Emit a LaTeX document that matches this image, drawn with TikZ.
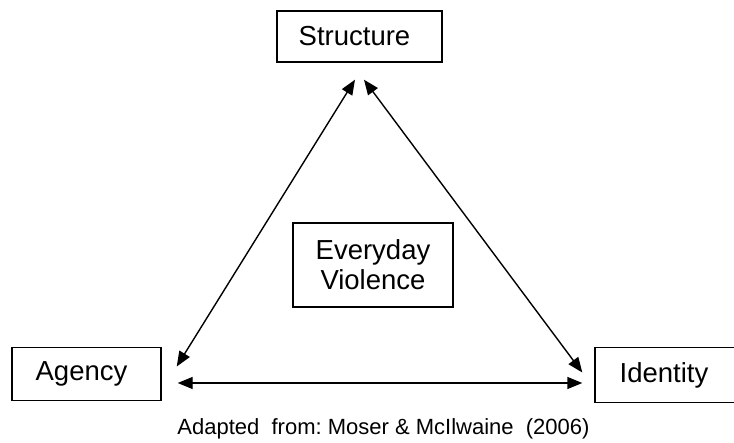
\documentclass[tikz,border=0pt]{standalone}
\usepackage{fontspec}
\setmainfont{Liberation Sans}
\usetikzlibrary{arrows.meta}
\begin{document}
\begin{tikzpicture}[x=1pt,y=-1pt,
  box/.style={draw, line width=1.4pt, inner sep=0pt, align=center,
    font=\fontsize{27.5}{30}\selectfont},
  link/.style={line width=1.4pt, {Triangle[length=15pt,width=12pt]}-{Triangle[length=15pt,width=12pt]}}]
\useasboundingbox (0,0) rectangle (734,443);
\begin{scope}
\clip (0,0) rectangle (734,443);
% the three corners and the centre
\node[box, minimum width=165pt, minimum height=51pt] (structure) at (359.5,36.5) {Structure\hspace{10pt}};
\node[box, minimum width=149pt, minimum height=53pt] (agency) at (86.5,374) {Agency\hspace{10pt}};
\node[box, minimum width=150pt, minimum height=55pt] (identity) at (670,375) {Identity\hspace{12pt}};
\node[box, minimum width=160pt, minimum height=84pt] (everyday) at (373,265) {Everyday\\Violence};

% arrow end points, kept clear of the boxes
\coordinate (sL) at ([xshift=-4.5pt,yshift=-17pt]structure.south);
\coordinate (sR) at ([xshift=4.5pt,yshift=-17pt]structure.south);
\coordinate (aD) at ([xshift=15pt,yshift=7.5pt]agency.east);
\coordinate (aH) at ([xshift=16pt,yshift=-9pt]agency.east);
\coordinate (iD) at ([xshift=-12pt,yshift=2.5pt]identity.west);
\coordinate (iH) at ([xshift=-12pt,yshift=-8pt]identity.west);

\draw[link] (sL) -- (aD);
\draw[link] (sR) -- (iD);
\draw[link] (aH) -- (iH);

\node[font=\fontsize{22}{24}\selectfont, inner sep=0pt] (source) at (383.5,429)
  {Adapted\ \ from:\ Moser\ \&\ McIlwaine\ \ (2006)};
\end{scope}
\end{tikzpicture}
\end{document}
